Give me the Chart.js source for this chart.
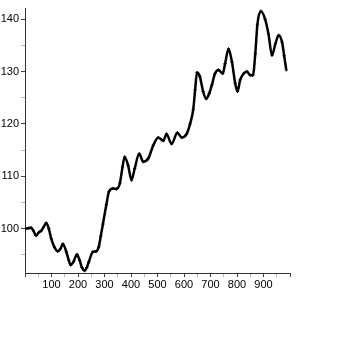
<!DOCTYPE html>
<html><head><meta charset="utf-8">
<script src="https://cdn.jsdelivr.net/npm/chart.js@4/dist/chart.umd.min.js"></script>
<style>html,body{margin:0;padding:0;background:#fff}</style>
</head><body>
<canvas id="c" width="359" height="359"></canvas>
<script>
const xValues=[0,12,23,32,42,52,61,70,80,90,99,111,124,134,143,156,165,172,183,196,206,215,225,233,241,256,269,278,286,294,307,317,332,345,358,368,376,389,402,414,431,446,465,484,503,515,522,534,553,575,591,610,623,635,642,649,660,672,684,695,705,717,730,746,755,768,781,793,802,812,825,837,850,860,869,877,890,906,919,932,945,957,970,978,986];
const yValues=[100.0,100.1,100.2,99.6,98.7,99.3,99.6,100.3,101.1,100.0,98.1,96.5,95.7,96.2,97.1,95.6,94.0,93.1,93.7,95.1,94.0,92.6,92.0,92.6,93.7,95.6,95.7,96.5,98.6,100.9,104.6,107.1,107.7,107.6,108.7,111.8,113.7,112.1,109.3,111.5,114.3,112.8,113.4,115.9,117.4,117.0,116.8,118.1,116.2,118.3,117.4,118.1,120.0,122.8,126.5,129.8,129.0,126.2,124.8,125.8,127.4,129.6,130.3,129.6,131.5,134.3,131.8,127.8,126.2,128.4,129.6,130.0,129.3,129.3,133.4,139.0,141.5,140.0,137.1,133.1,135.3,136.9,135.6,133.0,130.3];
const xTickLabels=[100,200,300,400,500,600,700,800,900];
const yTickLabels=[100,110,120,130,140];

const font={family:"'Liberation Sans Narrow','Liberation Sans',sans-serif",size:11};
new Chart(document.getElementById('c'),{
  type:'line',
  data:{datasets:[{
    data:xValues.map((x,i)=>({x:x,y:yValues[i]})),
    borderColor:'#000',borderWidth:2.5,
    pointStyle:'cross',pointRadius:1.6,pointBorderColor:'#000',pointBorderWidth:1,
    cubicInterpolationMode:'monotone',fill:false
  }]},
  options:{
    responsive:false,animation:false,devicePixelRatio:1,
    plugins:{legend:{display:false},tooltip:{enabled:false}},
    layout:{padding:{left:0,top:4,right:69,bottom:66}},
    scales:{
      x:{type:'linear',min:0,max:1000,
        afterFit:s=>{s.height=20;},
        border:{color:'#333',width:1},
        grid:{drawOnChartArea:false,tickLength:4,
          tickColor:c=>(c.tick&&c.tick.value%100===0)?'#444':'#bbb'},
        ticks:{stepSize:50,autoSkip:false,maxRotation:0,color:'#000',font:font,padding:1,
          callback:v=>xTickLabels.includes(v)?String(v):''}
      },
      y:{type:'linear',min:91.56,max:142,
        afterFit:s=>{s.width=25;},
        border:{color:'#333',width:1},
        grid:{drawOnChartArea:false,tickLength:4,
          tickColor:c=>(c.tick&&c.tick.value%10===0)?'#444':'#bbb'},
        ticks:{stepSize:5,includeBounds:false,color:'#000',font:font,padding:2,
          callback:v=>yTickLabels.includes(v)?String(v):''}
      }
    }
  }
});
</script>
</body></html>
